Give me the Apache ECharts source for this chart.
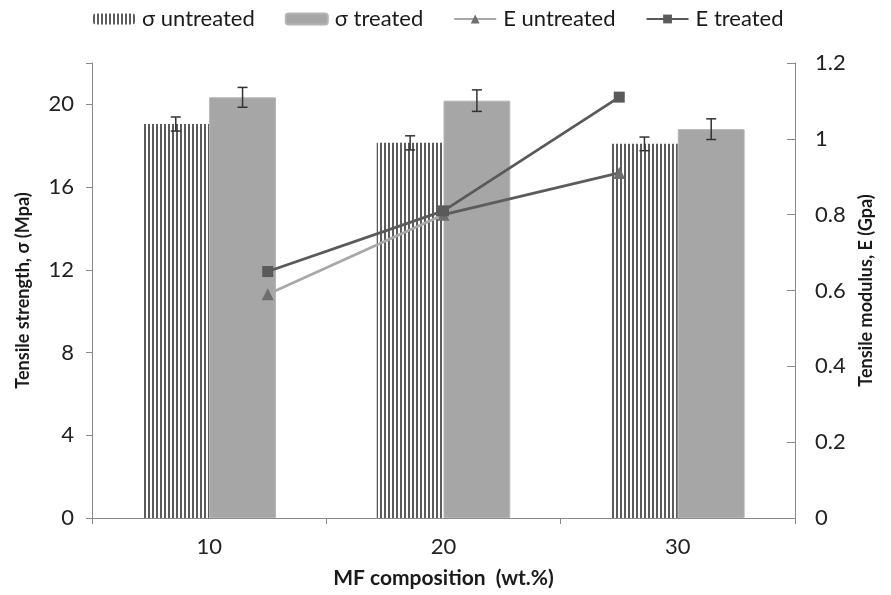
<!DOCTYPE html>
<html>
<head>
<meta charset="utf-8">
<script src="https://cdn.jsdelivr.net/npm/echarts@6/dist/echarts.min.js"></script>
<style>html,body{margin:0;padding:0;background:#fff}#c{width:891px;height:595px}</style>
</head>
<body>
<div id="c"></div>
<script>
const categories = ['10', '20', '30'];
const sigmaUntreated = [19.05, 18.14, 18.09];
const sigmaUntreatedErr = [0.34, 0.34, 0.33];
const sigmaTreated = [20.34, 20.18, 18.8];
const sigmaTreatedErr = [0.48, 0.52, 0.5];
const eX = [10, 20, 30];
const eUntreated = [0.59, 0.80, 0.91];
const eTreated = [0.65, 0.81, 1.11];
const leftTicks = [0, 4, 8, 12, 16, 20];

const FONT = 'Lato';
const GAP = 0.43;

const pc = document.createElement('canvas');
pc.width = 4; pc.height = 4;
const pctx = pc.getContext('2d');
pctx.fillStyle = '#ffffff'; pctx.fillRect(0, 0, 4, 4);
pctx.fillStyle = '#5c5c5c'; pctx.fillRect(0, 0, 2, 4);
const stripe = { image: pc, repeat: 'repeat' };

function errSeries(name, vals, errs, side) {
  return {
    type: 'custom', name: name + ' err', xAxisIndex: 0, yAxisIndex: 0, z: 5,
    data: vals.map((v, i) => [i, v, errs[i]]),
    encode: { x: 0, y: 1 },
    renderItem: function (params, api) {
      const i = api.value(0), v = api.value(1), e = api.value(2);
      const band = api.size([1, 0])[0];
      const bw = band * (1 - GAP) / 2;
      const cx = api.coord([i, v])[0] + side * bw / 2;
      const yt = api.coord([i, v + e])[1];
      const yb = api.coord([i, v - e])[1];
      const st = { stroke: '#333', lineWidth: 1.5 };
      return { type: 'group', children: [
        { type: 'line', shape: { x1: cx, y1: yt, x2: cx, y2: yb }, style: st },
        { type: 'line', shape: { x1: cx - 5, y1: yt, x2: cx + 5, y2: yt }, style: st },
        { type: 'line', shape: { x1: cx - 5, y1: yb, x2: cx + 5, y2: yb }, style: st }
      ]};
    }
  };
}

const chart = echarts.init(document.getElementById('c'));
chart.setOption({
  animation: false,
  backgroundColor: '#fff',
  textStyle: { fontFamily: FONT },
  legend: {
    top: 3, left: 88, itemGap: 30, itemWidth: 42, itemHeight: 11,
    textStyle: { fontFamily: FONT, fontSize: 22, color: '#1a1a1a', padding: [0, 0, 0, 2] },
    data: [
      { name: 'σ untreated' },
      { name: 'σ treated' },
      { name: 'E untreated', lineStyle: { color: '#a8a8a8' } },
      { name: 'E treated' }
    ]
  },
  grid: { left: 92, right: 96, top: 63, bottom: 77 },
  xAxis: [{
    type: 'category', data: categories,
    name: 'MF composition  (wt.%)', nameLocation: 'middle', nameGap: 50,
    nameTextStyle: { fontFamily: FONT, fontSize: 21, fontWeight: 'bold', color: '#1a1a1a' },
    axisLine: { lineStyle: { color: '#8a8a8a', width: 1 } },
    axisTick: { show: true, length: 6, lineStyle: { color: '#8a8a8a' } },
    axisLabel: { fontSize: 22, color: '#222', margin: 18 },
    splitLine: { show: false }
  }, {
    type: 'value', min: 0, max: 40, show: false
  }],
  yAxis: [{
    type: 'value', min: 0, max: 22, interval: 4, position: 'left',
    name: 'Tensile strength, σ (Mpa)', nameLocation: 'middle', nameGap: 60,
    nameTextStyle: { fontFamily: FONT, fontSize: 18, fontWeight: 'bold', color: '#1a1a1a' },
    axisLine: { show: true, lineStyle: { color: '#8a8a8a' } },
    axisTick: { show: true, length: 6, lineStyle: { color: '#8a8a8a' } },
    axisLabel: { fontSize: 22, color: '#222', margin: 18,
      formatter: v => leftTicks.indexOf(v) >= 0 ? String(v) : '' },
    splitLine: { show: false }
  }, {
    type: 'value', min: 0, max: 1.2, interval: 0.2, position: 'right',
    name: 'Tensile modulus, E (Gpa)', nameLocation: 'middle', nameGap: 62, nameRotate: 90,
    nameTextStyle: { fontFamily: FONT, fontSize: 18, fontWeight: 'bold', color: '#1a1a1a' },
    axisLine: { show: true, lineStyle: { color: '#8a8a8a' } },
    axisTick: { show: true, inside: true, length: 8, lineStyle: { color: '#8a8a8a' } },
    axisLabel: { fontSize: 22, color: '#222', margin: 20,
      formatter: v => String(Math.round(v * 10) / 10) },
    splitLine: { show: false }
  }],
  series: [
    {
      name: 'σ untreated', type: 'bar', data: sigmaUntreated,
      barGap: '0%', barCategoryGap: (GAP * 100) + '%',
      itemStyle: { color: stripe }
    },
    {
      name: 'σ treated', type: 'bar', data: sigmaTreated,
      barGap: '0%', barCategoryGap: (GAP * 100) + '%',
      itemStyle: { color: '#a6a6a6', borderColor: '#b4b4b4', borderWidth: 1 }
    },
    errSeries('σ untreated', sigmaUntreated, sigmaUntreatedErr, -1),
    errSeries('σ treated', sigmaTreated, sigmaTreatedErr, 1),
    {
      name: 'E untreated', type: 'line', xAxisIndex: 1, yAxisIndex: 1, z: 6,
      data: eX.map((x, i) => [x, eUntreated[i]]),
      symbol: 'triangle', symbolSize: 12,
      itemStyle: { color: '#6e6e6e' },
      lineStyle: { width: 2.8, color: new echarts.graphic.LinearGradient(0, 0, 1, 0, [
        { offset: 0, color: '#a8a8a8' }, { offset: 0.5, color: '#a8a8a8' },
        { offset: 0.5, color: '#5c5c5c' }, { offset: 1, color: '#5c5c5c' }]) }
    },
    {
      name: 'E treated', type: 'line', xAxisIndex: 1, yAxisIndex: 1, z: 7,
      data: eX.map((x, i) => [x, eTreated[i]]),
      symbol: 'rect', symbolSize: 11,
      itemStyle: { color: '#5a5a5a' },
      lineStyle: { width: 2.8, color: '#5a5a5a' }
    }
  ]
});
</script>
</body>
</html>
